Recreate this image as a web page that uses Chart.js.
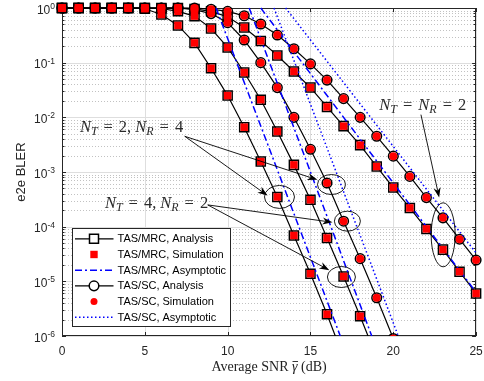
<!DOCTYPE html>
<html>
<head>
<meta charset="utf-8">
<script src="https://cdn.jsdelivr.net/npm/chart.js@4.4.0/dist/chart.umd.min.js"></script>
<style>
  html, body { margin: 0; padding: 0; background: #fff; }
  #wrap { width: 484px; height: 381px; }
</style>
</head>
<body>
<div id="wrap"><canvas id="blerChart" width="484" height="381"></canvas></div>
<script>
// average SNR (dB)
var snr = [0, 1, 2, 3, 4, 5, 6, 7, 8, 9, 10, 11, 12, 13, 14, 15, 16, 17, 18, 19, 20, 21, 22, 23, 24, 25];

// TAS/MRC, N_T = 2, N_R = 4
var mrc24Analysis   = [1, 1, 1, 1, 1, 0.97, 0.76, 0.48, 0.23, 0.079, 0.025, 6.6e-3, 1.55e-3, 3.5e-4, 6.9e-5, 1.38e-5, 2.5e-6, 4e-7];
var mrc24Simulation = [1, 1, 1, 1, 1, 0.97, 0.76, 0.48, 0.23, 0.079, 0.025, 6.6e-3, 1.55e-3, 3.5e-4, 6.9e-5, 1.38e-5, 2.5e-6, 4e-7];
// TAS/MRC, N_T = 4, N_R = 2
var mrc42Analysis   = [1, 1, 1, 1, 1, 1, 0.98, 0.87, 0.71, 0.42, 0.19, 0.066, 0.021, 5.5e-3, 1.35e-3, 3.1e-4, 6.2e-5, 1.23e-5, 2.3e-6, 4e-7];
var mrc42Simulation = [1, 1, 1, 1, 1, 1, 0.98, 0.87, 0.71, 0.42, 0.19, 0.066, 0.021, 5.5e-3, 1.35e-3, 3.1e-4, 6.2e-5, 1.23e-5, 2.3e-6, 4e-7];
// TAS/MRC, N_T = N_R = 2
var mrc22Analysis   = [1, 1, 1, 1, 1, 1, 1, 1, 0.96, 0.87, 0.69, 0.44, 0.25, 0.135, 0.069, 0.035, 0.0155, 6.9e-3, 3.1e-3, 1.26e-3, 5.2e-4, 2.2e-4, 9.1e-5, 3.8e-5, 1.5e-5, 6.0e-6];
var mrc22Simulation = [1, 1, 1, 1, 1, 1, 1, 1, 0.96, 0.87, 0.69, 0.44, 0.25, 0.135, 0.069, 0.035, 0.0155, 6.9e-3, 3.1e-3, 1.26e-3, 5.2e-4, 2.2e-4, 9.1e-5, 3.8e-5, 1.5e-5, 6.0e-6];
// TAS/SC, N_T = 2, N_R = 4 (same curve as N_T = 4, N_R = 2)
var sc24Analysis    = [1, 1, 1, 1, 1, 1, 1, 1, 0.93, 0.79, 0.54, 0.26, 0.10, 0.035, 0.01, 2.6e-3, 6.3e-4, 1.26e-4, 2.6e-5, 5e-6, 9e-7];
var sc24Simulation  = [1, 1, 1, 1, 1, 1, 1, 1, 0.93, 0.79, 0.54, 0.26, 0.10, 0.035, 0.01, 2.6e-3, 6.3e-4, 1.26e-4, 2.6e-5, 5e-6, 9e-7];
// TAS/SC, N_T = N_R = 2
var sc22Analysis    = [1, 1, 1, 1, 1, 1, 1, 1, 1, 0.95, 0.87, 0.72, 0.51, 0.32, 0.18, 0.095, 0.048, 0.022, 0.01, 4.5e-3, 1.95e-3, 8.3e-4, 3.4e-4, 1.45e-4, 5.9e-5, 2.45e-5];
var sc22Simulation  = [1, 1, 1, 1, 1, 1, 1, 1, 1, 0.95, 0.87, 0.72, 0.51, 0.32, 0.18, 0.095, 0.048, 0.022, 0.01, 4.5e-3, 1.95e-3, 8.3e-4, 3.4e-4, 1.45e-4, 5.9e-5, 2.45e-5];

// asymptotes (straight lines on the log axis, end points)
var mrc24Asymptote = [{ x: 9.3, y: 1 }, { x: 16.8, y: 1e-6 }];
var mrc42Asymptote = [{ x: 11.3, y: 1 }, { x: 18.7, y: 1e-6 }];
var mrc22Asymptote = [{ x: 12.0, y: 1 }, { x: 25, y: 6.3e-6 }];
var sc24Asymptote  = [{ x: 12.8, y: 1 }, { x: 20.3, y: 1e-6 }];
var sc22Asymptote  = [{ x: 13.5, y: 1 }, { x: 25, y: 3.3e-5 }];

var xTicks = [0, 5, 10, 15, 20, 25];
var yExponents = [0, -1, -2, -3, -4, -5, -6];

var legendLabels = ['TAS/MRC, Analysis', 'TAS/MRC, Simulation', 'TAS/MRC, Asymptotic',
                    'TAS/SC, Analysis', 'TAS/SC, Simulation', 'TAS/SC, Asymptotic'];

var AXIS = '#262626';
var SANS = '"Liberation Sans", Arial, sans-serif';
var SERIF = '"Liberation Serif", "Times New Roman", serif';
var DASHDOT = [7, 3, 2, 3];
var DOTTED = [1.5, 2.5];

function series(vals) {
    return vals.map(function (v, i) { return { x: snr[i], y: v }; });
}

var clipBox = { left: 8, top: 8, right: 8, bottom: 0 };

function analysis(vals, style) {
    return {
        data: series(vals), borderColor: '#000', borderWidth: 1.2, tension: 0, fill: false,
        pointStyle: style, pointRadius: style === 'rect' ? 6.4 : 4.8, pointBorderWidth: 1.5,
        pointBorderColor: '#000', pointBackgroundColor: 'rgba(0,0,0,0)', clip: clipBox, order: 3
    };
}
function simulation(vals, style) {
    return {
        data: series(vals), showLine: false, pointStyle: style,
        pointRadius: style === 'rect' ? 5.3 : 4, pointBorderWidth: 0,
        pointBackgroundColor: '#ff0000', pointBorderColor: '#ff0000', clip: clipBox, order: 1
    };
}
function asymptote(points, dash) {
    return {
        data: points, borderColor: '#0000ff', borderWidth: 1.5, borderDash: dash,
        pointRadius: 0, fill: false, clip: clipBox, order: 2
    };
}

// grid, box and inward ticks
var axisBox = {
    id: 'axisBox',
    beforeDatasetsDraw: function (chart) {
        var ctx = chart.ctx, a = chart.chartArea, xs = chart.scales.x, ys = chart.scales.y;
        ctx.save();
        ctx.lineWidth = 1;

        // minor y grid, dotted
        ctx.strokeStyle = '#c2c2c2';
        ctx.setLineDash([1, 2]);
        yExponents.forEach(function (e) {
            if (e === 0) return;
            for (var m = 2; m <= 9; m++) {
                var y = Math.round(ys.getPixelForValue(m * Math.pow(10, e))) + 0.5;
                ctx.beginPath(); ctx.moveTo(a.left, y); ctx.lineTo(a.right, y); ctx.stroke();
            }
        });
        ctx.setLineDash([]);

        // major grid
        ctx.strokeStyle = '#dedede';
        xTicks.forEach(function (t) {
            var x = Math.round(xs.getPixelForValue(t)) + 0.5;
            ctx.beginPath(); ctx.moveTo(x, a.top); ctx.lineTo(x, a.bottom); ctx.stroke();
        });
        yExponents.forEach(function (e) {
            var y = Math.round(ys.getPixelForValue(Math.pow(10, e))) + 0.5;
            ctx.beginPath(); ctx.moveTo(a.left, y); ctx.lineTo(a.right, y); ctx.stroke();
        });

        // box
        ctx.strokeStyle = AXIS;
        ctx.strokeRect(Math.round(a.left) + 0.5, Math.round(a.top) + 0.5,
                       Math.round(a.right - a.left) - 1, Math.round(a.bottom - a.top) - 1);

        // ticks pointing in
        ctx.beginPath();
        xTicks.forEach(function (t) {
            var x = Math.round(xs.getPixelForValue(t)) + 0.5;
            ctx.moveTo(x, a.bottom); ctx.lineTo(x, a.bottom - 4);
            ctx.moveTo(x, a.top); ctx.lineTo(x, a.top + 4);
        });
        yExponents.forEach(function (e) {
            for (var m = 1; m <= 9; m++) {
                if (e === 0 && m > 1) break;
                var y = Math.round(ys.getPixelForValue(m * Math.pow(10, e))) + 0.5;
                var len = m === 1 ? 4 : 2.5;
                ctx.moveTo(a.left, y); ctx.lineTo(a.left + len, y);
                ctx.moveTo(a.right, y); ctx.lineTo(a.right - len, y);
            }
        });
        ctx.stroke();
        ctx.restore();
    },
    afterDraw: function (chart) {
        var ctx = chart.ctx, a = chart.chartArea, ys = chart.scales.y;
        ctx.save();
        ctx.fillStyle = AXIS;

        // y tick labels 10^e
        yExponents.forEach(function (e) {
            var y = ys.getPixelForValue(Math.pow(10, e));
            var sup = e === 0 ? '0' : '-' + (-e);
            ctx.font = '8.5px ' + SANS;
            var supW = ctx.measureText(sup).width;
            var right = a.left - 7;
            ctx.textBaseline = 'middle';
            ctx.textAlign = 'left';
            ctx.fillText(sup, right - supW, y - 1.5);
            ctx.font = '12px ' + SANS;
            ctx.textAlign = 'right';
            ctx.fillText('10', right - supW, y + 2.5);
        });

        // y title
        ctx.save();
        ctx.translate(21, (a.top + a.bottom) / 2);
        ctx.rotate(-Math.PI / 2);
        ctx.font = '13px ' + SANS;
        ctx.textAlign = 'center';
        ctx.textBaseline = 'middle';
        ctx.fillText('e2e BLER', 0, 0);
        ctx.restore();

        // x title: Average SNR γ̄ (dB)
        ctx.fillStyle = '#222';
        ctx.textAlign = 'left';
        ctx.textBaseline = 'alphabetic';
        var p1 = 'Average SNR ', p3 = ' (dB)';
        ctx.font = '14px ' + SERIF;
        var w1 = ctx.measureText(p1).width, w3 = ctx.measureText(p3).width;
        ctx.font = 'italic 14px ' + SERIF;
        var w2 = ctx.measureText('\u03b3').width;
        var x0 = (a.left + a.right) / 2 - (w1 + w2 + w3) / 2, base = 371;
        ctx.font = '14px ' + SERIF;
        ctx.fillText(p1, x0, base);
        ctx.font = 'italic 14px ' + SERIF;
        ctx.fillText('\u03b3', x0 + w1, base);
        ctx.fillRect(x0 + w1 + 0.5, base - 10, w2, 0.9);
        ctx.font = '14px ' + SERIF;
        ctx.fillText(p3, x0 + w1 + w2, base);
        ctx.restore();
    }
};

// labels with subscripts: [text, kind], kind = it | sub | rm | gap
function mathLabel(ctx, x, y, parts) {
    parts.forEach(function (p) {
        if (p[1] === 'gap') { x += p[0]; return; }
        var sub = p[1] === 'sub';
        ctx.font = (p[1] === 'rm' ? '' : 'italic ') + (sub ? 12 : 16.5) + 'px ' + SERIF;
        ctx.fillText(p[0], x, sub ? y + 3.5 : y);
        x += ctx.measureText(p[0]).width;
    });
}

function arrow(ctx, x1, y1, x2, y2) {
    var ang = Math.atan2(y2 - y1, x2 - x1), c = Math.cos(ang), s = Math.sin(ang);
    var len = 10, half = 3.6;
    ctx.beginPath();
    ctx.moveTo(x1, y1);
    ctx.lineTo(x2 - c * len * 0.7, y2 - s * len * 0.7);
    ctx.stroke();
    ctx.beginPath();
    ctx.moveTo(x2, y2);
    ctx.lineTo(x2 - len * c + half * s, y2 - len * s - half * c);
    ctx.lineTo(x2 - 0.7 * len * c, y2 - 0.7 * len * s);
    ctx.lineTo(x2 - len * c - half * s, y2 - len * s + half * c);
    ctx.closePath();
    ctx.fill();
}

var labelNT2NR4 = [['N', 'it'], ['T', 'sub'], [6, 'gap'], ['=', 'rm'], [6, 'gap'], ['2,', 'rm'], [4, 'gap'],
                   ['N', 'it'], ['R', 'sub'], [6, 'gap'], ['=', 'rm'], [6, 'gap'], ['4', 'rm']];
var labelNT4NR2 = [['N', 'it'], ['T', 'sub'], [6, 'gap'], ['=', 'rm'], [6, 'gap'], ['4,', 'rm'], [4, 'gap'],
                   ['N', 'it'], ['R', 'sub'], [6, 'gap'], ['=', 'rm'], [6, 'gap'], ['2', 'rm']];
var labelNT2NR2 = [['N', 'it'], ['T', 'sub'], [6, 'gap'], ['=', 'rm'], [6, 'gap'],
                   ['N', 'it'], ['R', 'sub'], [6, 'gap'], ['=', 'rm'], [6, 'gap'], ['2', 'rm']];

var notes = {
    id: 'notes',
    afterDatasetsDraw: function (chart) {
        var ctx = chart.ctx, xs = chart.scales.x, ys = chart.scales.y;
        function px(x) { return xs.getPixelForValue(x); }
        function py(y) { return ys.getPixelForValue(y); }
        ctx.save();
        ctx.strokeStyle = '#000';
        ctx.fillStyle = '#000';
        ctx.lineWidth = 0.9;

        // ellipses around the marked points: [snr, bler, rx, ry]
        [[13.13, 3.5e-4, 15, 11.5], [16.27, 5.9e-4, 14, 10], [17.23, 1.26e-4, 13, 10],
         [16.87, 1.2e-5, 14, 10.5], [23.01, 7.1e-5, 12, 32]].forEach(function (e) {
            ctx.beginPath();
            ctx.ellipse(px(e[0]), py(e[1]), e[2], e[3], 0, 0, Math.PI * 2);
            ctx.stroke();
        });

        // arrows: [from snr, from bler, to snr, to bler]
        [[7.41, 4.5e-3, 12.41, 3.7e-4], [7.41, 4.5e-3, 15.42, 7.2e-4],
         [8.8, 2.5e-4, 16.33, 1.2e-4], [8.8, 2.5e-4, 16.14, 1.6e-5],
         [21.67, 0.0112, 22.77, 3.4e-4]].forEach(function (r) {
            arrow(ctx, px(r[0]), py(r[1]), px(r[2]), py(r[3]));
        });

        ctx.fillStyle = '#2a2a2a';
        ctx.textBaseline = 'alphabetic';
        ctx.textAlign = 'left';
        mathLabel(ctx, px(1.08), py(5.5e-3), labelNT2NR4);
        mathLabel(ctx, px(2.59), py(2.2e-4), labelNT4NR2);
        mathLabel(ctx, px(19.16), py(0.0138), labelNT2NR2);
        ctx.restore();

        // legend
        var a = chart.chartArea;
        var x0 = Math.round(a.left) + 10.5, y0 = Math.round(a.bottom) - 107.5, w = 158, h = 98;
        ctx.save();
        ctx.fillStyle = '#fff';
        ctx.fillRect(x0, y0, w, h);
        ctx.strokeStyle = AXIS;
        ctx.lineWidth = 1;
        ctx.strokeRect(x0, y0, w, h);
        legendLabels.forEach(function (label, i) {
            var y = y0 + 10.3 + i * 15.68;
            var lx1 = x0 + 2.5, lx2 = x0 + 41, mx = x0 + 21.5;
            var kind = i % 3, circle = i >= 3;
            ctx.setLineDash([]);
            if (kind === 0) {
                ctx.strokeStyle = '#000';
                ctx.lineWidth = 1.2;
                ctx.beginPath(); ctx.moveTo(lx1, y); ctx.lineTo(mx - 5, y);
                ctx.moveTo(mx + 5, y); ctx.lineTo(lx2, y); ctx.stroke();
                ctx.lineWidth = 1.5;
                ctx.beginPath();
                if (circle) ctx.arc(mx, y, 4.8, 0, Math.PI * 2);
                else ctx.rect(mx - 4.5, y - 4.5, 9, 9);
                ctx.stroke();
            } else if (kind === 1) {
                ctx.fillStyle = '#ff0000';
                ctx.beginPath();
                if (circle) ctx.arc(mx, y, 3.5, 0, Math.PI * 2);
                else ctx.rect(mx - 3.7, y - 3.7, 7.4, 7.4);
                ctx.fill();
            } else {
                ctx.strokeStyle = '#0000ff';
                ctx.lineWidth = 1.5;
                ctx.setLineDash(circle ? DOTTED : DASHDOT);
                ctx.beginPath(); ctx.moveTo(lx1, y); ctx.lineTo(lx2, y); ctx.stroke();
            }
            ctx.setLineDash([]);
            ctx.fillStyle = '#000';
            ctx.font = '11px ' + SANS;
            ctx.textBaseline = 'middle';
            ctx.textAlign = 'left';
            ctx.fillText(label, x0 + 45, y + 0.5);
        });
        ctx.restore();
    }
};

new Chart(document.getElementById('blerChart'), {
    type: 'line',
    data: {
        datasets: [
            simulation(mrc24Simulation, 'rect'),
            simulation(mrc42Simulation, 'rect'),
            simulation(mrc22Simulation, 'rect'),
            simulation(sc24Simulation, 'circle'),
            simulation(sc22Simulation, 'circle'),
            asymptote(mrc24Asymptote, DASHDOT),
            asymptote(mrc42Asymptote, DASHDOT),
            asymptote(mrc22Asymptote, DASHDOT),
            asymptote(sc24Asymptote, DOTTED),
            asymptote(sc22Asymptote, DOTTED),
            analysis(mrc24Analysis, 'rect'),
            analysis(mrc42Analysis, 'rect'),
            analysis(mrc22Analysis, 'rect'),
            analysis(sc24Analysis, 'circle'),
            analysis(sc22Analysis, 'circle')
        ]
    },
    options: {
        responsive: false,
        animation: false,
        devicePixelRatio: 1,
        layout: { padding: { top: 8, right: 7, bottom: 0, left: 0 } },
        plugins: {
            legend: { display: false },
            tooltip: { enabled: false }
        },
        scales: {
            x: {
                type: 'linear',
                min: 0,
                max: 25,
                ticks: {
                    stepSize: 5,
                    color: AXIS,
                    padding: 8,
                    maxRotation: 0,
                    font: { family: SANS, size: 12 }
                },
                grid: { display: false, drawTicks: false },
                border: { display: false },
                afterFit: function (s) { s.height = 45; s.paddingLeft = 0; s.paddingRight = 0; }
            },
            y: {
                type: 'logarithmic',
                min: 1e-6,
                max: 1,
                ticks: { display: false },
                grid: { display: false, drawTicks: false },
                border: { display: false },
                afterFit: function (s) { s.width = 62; }
            }
        }
    },
    plugins: [axisBox, notes]
});
</script>
</body>
</html>
